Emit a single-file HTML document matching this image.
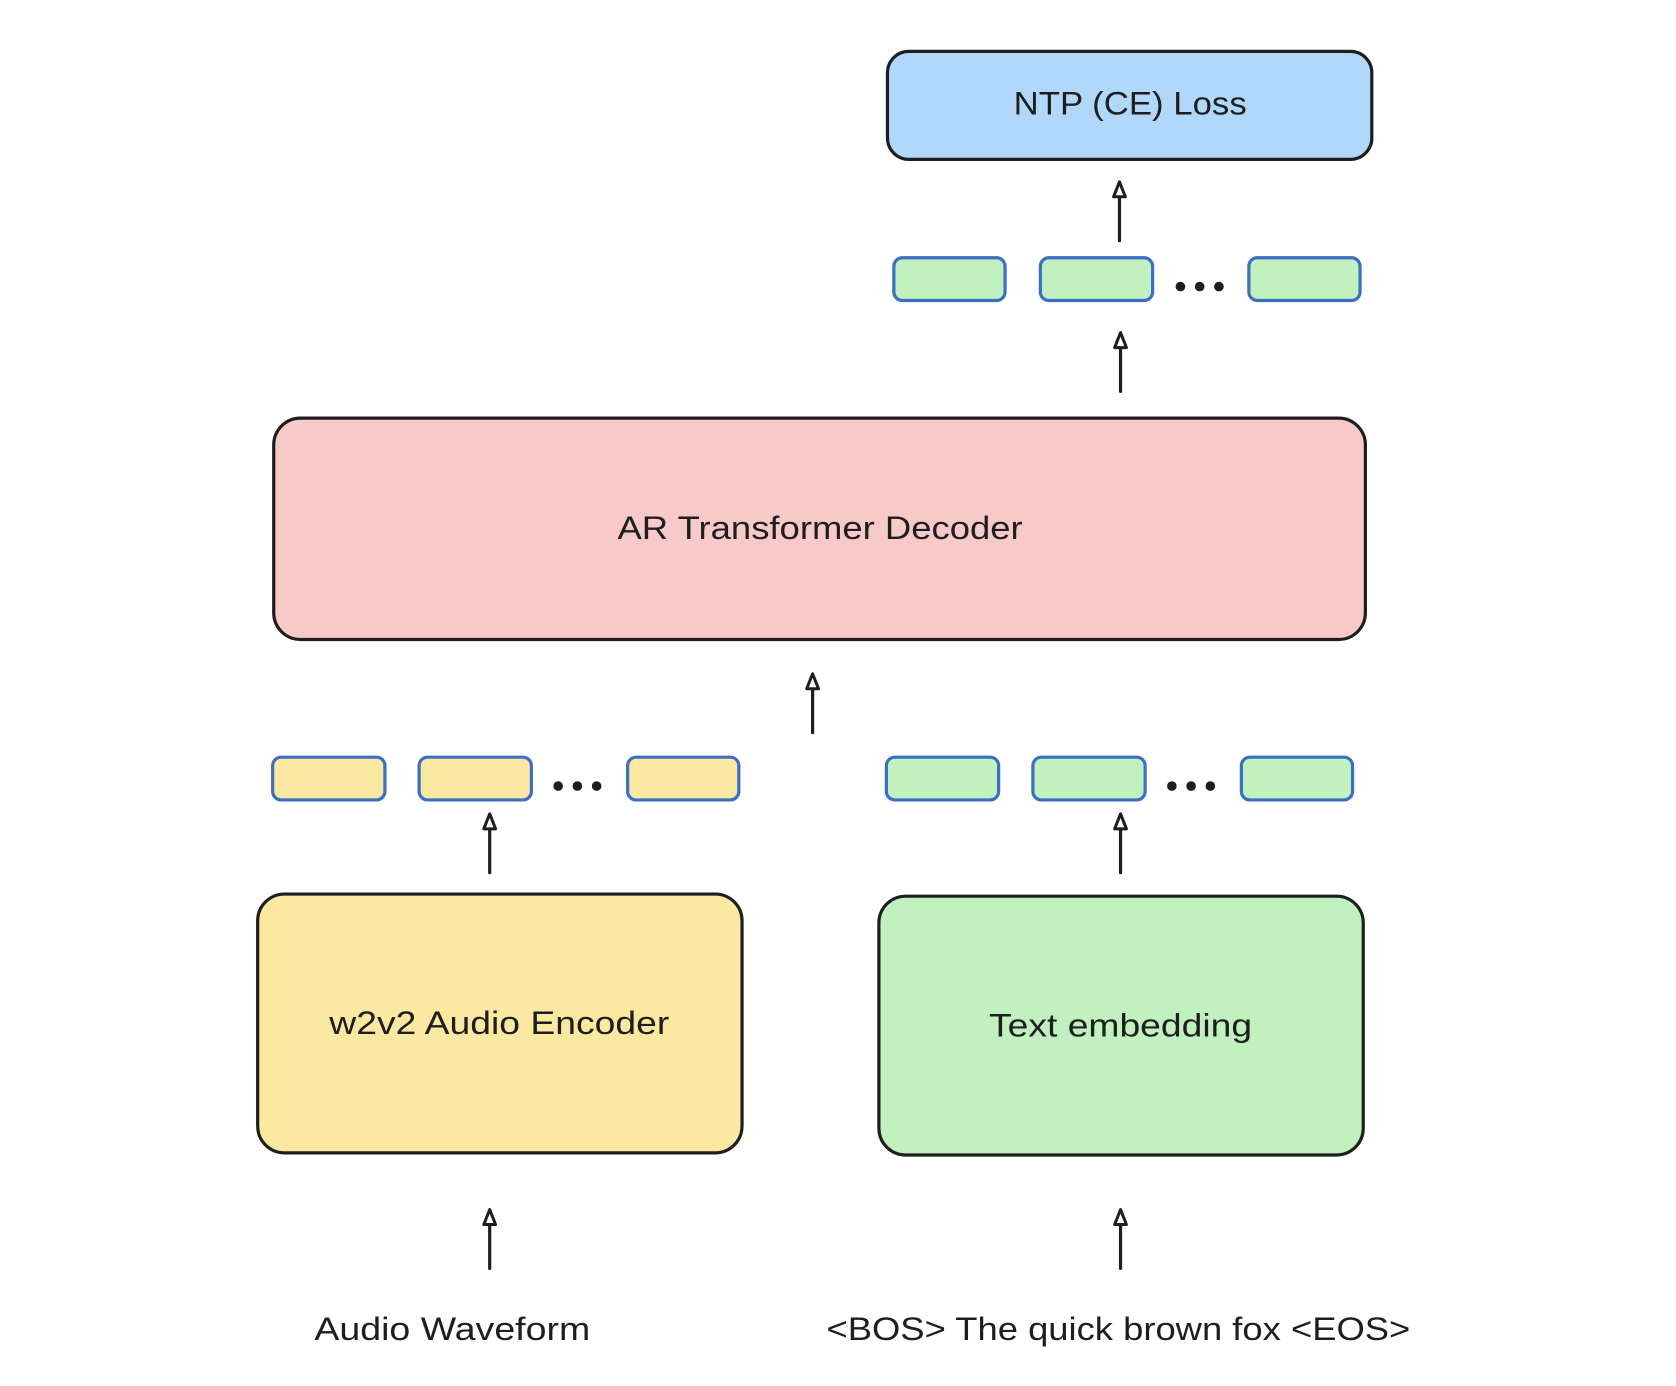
<!DOCTYPE html>
<html><head><meta charset="utf-8"><style>html,body{margin:0;padding:0;background:#fff}svg{display:block}</style></head>
<body>
<svg width="1676" height="1386" viewBox="0 0 1567.5 1296" preserveAspectRatio="none" xmlns="http://www.w3.org/2000/svg">
<defs>
<g id="ah"><path d="M0,0 L-5.5,14 L5.5,14 Z" fill="#fff" stroke="#1e1e1e" stroke-width="2.8" stroke-linejoin="round"/></g>
</defs>
<rect width="1567.5" height="1296" fill="#fff"/>
<g font-family="Liberation Sans, sans-serif" font-size="30" fill="#1e1e1e" text-anchor="middle">
<rect x="830" y="48" width="453" height="101" rx="20" fill="#b1d8fb" stroke="#1e1e1e" stroke-width="3"/>
<text x="1057" y="107" textLength="218" lengthAdjust="spacingAndGlyphs">NTP (CE) Loss</text>
<rect x="256" y="391" width="1021" height="207" rx="25" fill="#f7c9c9" stroke="#1e1e1e" stroke-width="3"/>
<text x="767" y="504" textLength="379" lengthAdjust="spacingAndGlyphs">AR Transformer Decoder</text>
<rect x="241" y="836" width="453" height="242" rx="25" fill="#fbe9a2" stroke="#1e1e1e" stroke-width="3"/>
<text x="467" y="967" textLength="318" lengthAdjust="spacingAndGlyphs">w2v2 Audio Encoder</text>
<rect x="822" y="838" width="453" height="242" rx="25" fill="#c0f1be" stroke="#1e1e1e" stroke-width="3"/>
<text x="1048" y="969" textLength="246" lengthAdjust="spacingAndGlyphs">Text embedding</text>
<text x="423" y="1253" textLength="258" lengthAdjust="spacingAndGlyphs">Audio Waveform</text>
<text x="1046" y="1253" textLength="546" lengthAdjust="spacingAndGlyphs">&lt;BOS&gt; The quick brown fox &lt;EOS&gt;</text>
</g>
<g stroke="#3c6fc4" stroke-width="3">
<rect x="836" y="241" width="104" height="40" rx="8" fill="#c0f1be"/>
<rect x="973" y="241" width="105" height="40" rx="8" fill="#c0f1be"/>
<rect x="1168" y="241" width="104" height="40" rx="8" fill="#c0f1be"/>
<rect x="255" y="708" width="105" height="40" rx="8" fill="#fbe9a2"/>
<rect x="392" y="708" width="105" height="40" rx="8" fill="#fbe9a2"/>
<rect x="587" y="708" width="104" height="40" rx="8" fill="#fbe9a2"/>
<rect x="829" y="708" width="105" height="40" rx="8" fill="#c0f1be"/>
<rect x="966" y="708" width="105" height="40" rx="8" fill="#c0f1be"/>
<rect x="1161" y="708" width="104" height="40" rx="8" fill="#c0f1be"/>
</g>
<g fill="#1e1e1e">
<circle cx="1104" cy="268" r="4.5"/><circle cx="1122" cy="268" r="4.5"/><circle cx="1140" cy="268" r="4.5"/>
<circle cx="522" cy="735" r="4.5"/><circle cx="540" cy="735" r="4.5"/><circle cx="558" cy="735" r="4.5"/>
<circle cx="1096" cy="735" r="4.5"/><circle cx="1114" cy="735" r="4.5"/><circle cx="1132" cy="735" r="4.5"/>
</g>
<g stroke="#1e1e1e" stroke-width="3" stroke-linecap="round">
<line x1="1047" y1="225" x2="1047" y2="180"/>
<line x1="1048" y1="366" x2="1048" y2="321"/>
<line x1="760" y1="685" x2="760" y2="640"/>
<line x1="458" y1="816" x2="458" y2="771"/>
<line x1="1048" y1="816" x2="1048" y2="771"/>
<line x1="458" y1="1186" x2="458" y2="1141"/>
<line x1="1048" y1="1186" x2="1048" y2="1141"/>
</g>
<use href="#ah" x="1047" y="170"/>
<use href="#ah" x="1048" y="311"/>
<use href="#ah" x="760" y="630"/>
<use href="#ah" x="458" y="761"/>
<use href="#ah" x="1048" y="761"/>
<use href="#ah" x="458" y="1131"/>
<use href="#ah" x="1048" y="1131"/>
</svg>
</body></html>
